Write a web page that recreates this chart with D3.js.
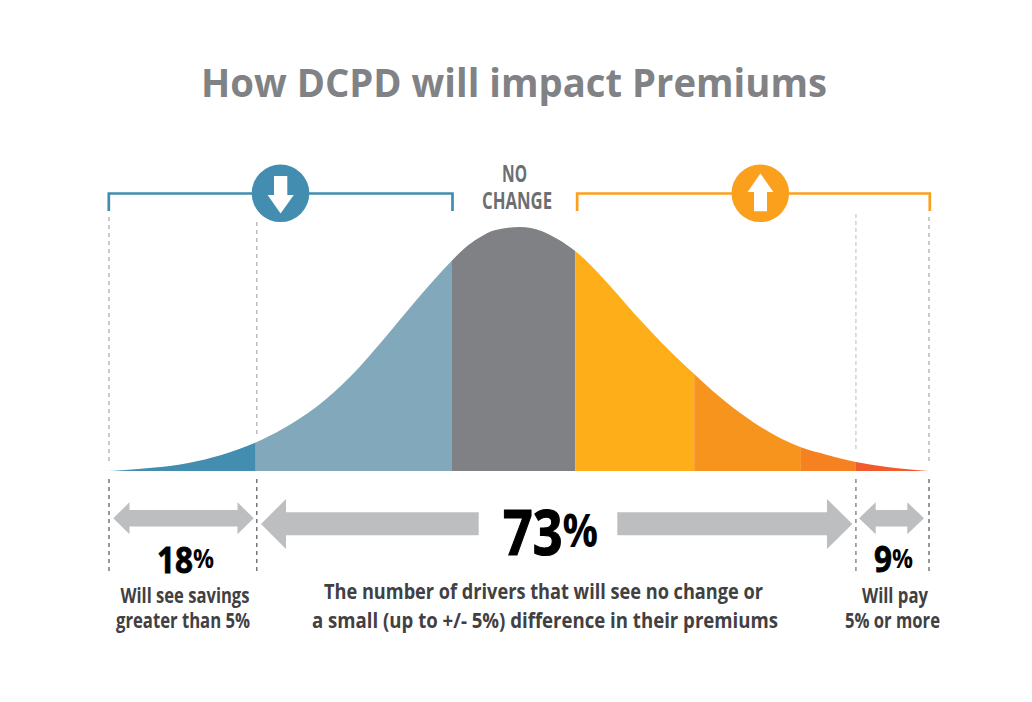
<!DOCTYPE html>
<html>
<head>
<meta charset="utf-8">
<script src="https://cdn.jsdelivr.net/npm/d3@7/dist/d3.min.js"></script>
<style>
html,body{margin:0;padding:0;background:#fff;overflow:hidden}
svg{display:block}
text{font-family:"Open Sans",sans-serif;font-weight:700}
</style>
</head>
<body>
<script>
// Bell curve: position (0-100 across the span) and relative height (0-100)
const curvePos = [0,1.7,5.7,9.8,13.8,18,21.4,25.4,29.5,33.5,37.6,41.9,43.5,45.1,47.2,50.2,52.8,54.8,56.9,60.3,64.4,68.5,71.4,74.5,78.6,84.4,87.6,91.1,94.9,100];
const curveHeight = [0,0.3,1.4,3.3,6.6,11.7,17.5,26.3,38.6,53.7,70.2,86.3,91.5,95.4,98.8,100,98.4,95,90.2,79,63.4,49,39.8,30.4,20,9.7,6.6,3.7,1.6,0];
const bandEdges = [0,18,41.9,56.9,71.4,84.4,91.1,100];
const bandColors = ["#438db0","#81a9bb","#808184","#fdae19","#f7941e","#f68121","#f15a2c"];
const title = "How DCPD will impact Premiums";
const noChange = ["NO","CHANGE"];
const shares = ["18","73","9"];
const captionLeft = ["Will see savings","greater than 5%"];
const captionMid = ["The number of drivers that will see no change or","a small (up to +/- 5%) difference in their premiums"];
const captionRight = ["Will pay","5% or more"];

const W = 1032, H = 702, blue = "#438db0", orange = "#fba01c";
const svg = d3.select("body").append("svg").attr("width",W).attr("height",H);
svg.append("rect").attr("width",W).attr("height",H).attr("fill","#fff");

const x = d3.scaleLinear().domain([0,100]).range([108,929]);
const y = d3.scaleLinear().domain([0,100]).range([471,227]);
const pts = curvePos.map((p,i)=>({p,h:curveHeight[i]}));
const area = d3.area().x(d=>x(d.p)).y0(y(0)).y1(d=>y(d.h)).curve(d3.curveMonotoneX);

const defs = svg.append("defs");
bandColors.forEach((c,i)=>{
  defs.append("clipPath").attr("id","band"+i).append("rect")
    .attr("x",x(bandEdges[i])).attr("width",x(bandEdges[i+1])-x(bandEdges[i]))
    .attr("y",y(105)).attr("height",y(0)-y(105));
  svg.append("path").attr("d",area(pts)).attr("fill",c).attr("clip-path",`url(#band${i})`);
});

// dotted guides
function guide(px,y1,y2,col,w,dash){
  svg.append("line").attr("x1",px).attr("x2",px).attr("y1",y1).attr("y2",y2)
    .attr("stroke",col).attr("stroke-width",w).attr("stroke-dasharray",dash);
}
guide(x(0)+1,217,462,"#bcbec0",1.6,"4 4");
guide(x(18)+1,222,434,"#bcbec0",1.6,"4 4");
guide(x(91.1),214,452,"#bcbec0",1,"4 3");
guide(x(100),217,461,"#bcbec0",1.6,"4 4");
guide(x(0)+1,479,572,"#6d6e71",1.4,"4 4");
guide(x(18)+1,479,572,"#6d6e71",1.4,"4 4");
guide(x(91.1),479,572,"#6d6e71",1.2,"4 4");
guide(x(100),479,572,"#6d6e71",1.4,"4 4");

// brackets
const line = d3.line();
function bracket(a,b,col){
  svg.append("path").attr("d",line([[a,211],[a,193.5],[b,193.5],[b,211]]))
    .attr("fill","none").attr("stroke",col).attr("stroke-width",2.7);
}
bracket(x(0)+.8,x(41.9)+.5,blue);
bracket(x(56.9)+2,x(100)+.8,orange);

// badge circles with arrows
function poly(p,col){ svg.append("path").attr("d",line(p)+"Z").attr("fill",col); }
svg.append("circle").attr("cx",280.5).attr("cy",193.3).attr("r",28.8).attr("fill",blue);
svg.append("circle").attr("cx",760.3).attr("cy",193.3).attr("r",28.8).attr("fill",orange);
poly([[274,176],[287.3,176],[287.3,195],[293.8,195],[280.6,213.5],[267.6,195],[274,195]],"#fff");
poly([[754,211.3],[767,211.3],[767,192],[773.4,192],[760.4,173.5],[747.6,192],[754,192]],"#fff");

// grey arrows
const grey = "#bcbec0";
poly([[113.3,518.3],[129.5,502.3],[129.5,510],[237.5,510],[237.5,502.3],[253.7,518.3],[237.5,534.3],[237.5,526.6],[129.5,526.6],[129.5,534.3]],grey);
poly([[261,524],[286,499],[286,512.3],[478.7,512.3],[478.7,535.3],[286,535.3],[286,549]],grey);
poly([[852.3,524],[827,499],[827,512.3],[617.3,512.3],[617.3,535.3],[827,535.3],[827,549]],grey);
poly([[859,518.3],[875.7,502.3],[875.7,510],[907.3,510],[907.3,502.3],[924,518.3],[907.3,534.3],[907.3,526.6],[875.7,526.6],[875.7,534.3]],grey);

// text fitted to measured extents
function fit(str,x1,x2,base,size,col){
  svg.append("text").attr("x",x1).attr("y",base).attr("font-size",size).attr("fill",col)
    .attr("textLength",x2-x1).attr("lengthAdjust","spacingAndGlyphs").text(str);
}
// one text element holding the figure and its raised percent sign
function share(str,x1,x2,base,size,pctSize,rise,weightStroke){
  const t = svg.append("text").attr("x",x1).attr("y",base).attr("fill","#000")
    .attr("stroke","#000").attr("stroke-width",weightStroke)
    .attr("textLength",x2-x1).attr("lengthAdjust","spacingAndGlyphs");
  t.append("tspan").attr("font-size",size).text(str);
  t.append("tspan").attr("font-size",pctSize).attr("dy",-rise).attr("stroke-width",0).text("%");
}
fit(title,201,827,97,40,"#808285");

// stacked label as a single text element
const nc = svg.append("text").attr("fill","#6d6e71").attr("font-size",24);
nc.append("tspan").attr("x",502).attr("y",182).attr("textLength",25).attr("lengthAdjust","spacingAndGlyphs").text(noChange[0]);
nc.append("tspan").attr("x",482).attr("y",209).attr("textLength",70).attr("lengthAdjust","spacingAndGlyphs").text(noChange[1]);

share(shares[0],157,214,573,35,26,5,0.8);
share(shares[1],503,598,555,62,47,8,1.2);
share(shares[2],874,913,572,35,26,4,0.8);

const cap = "#414042";
function caption(lines,xs,bases){
  const t = svg.append("text").attr("fill",cap).attr("font-size",22);
  lines.forEach((s,i)=>t.append("tspan").attr("x",xs[i][0]).attr("y",bases[i])
    .attr("textLength",xs[i][1]-xs[i][0]).attr("lengthAdjust","spacingAndGlyphs").text(s));
}
caption(captionLeft,[[120.5,249.5],[116,250]],[603,628]);
caption(captionMid,[[324,763],[312,778]],[599,628]);
caption(captionRight,[[862,928],[845,940]],[603,628]);
</script>
</body>
</html>
